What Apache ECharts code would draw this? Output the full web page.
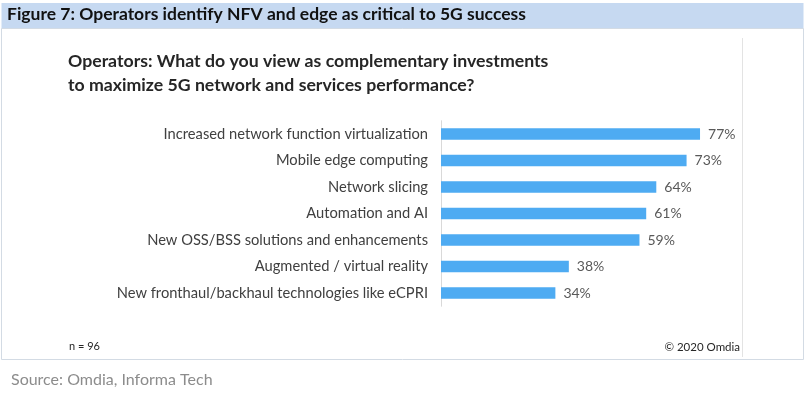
<!DOCTYPE html>
<html><head><meta charset="utf-8">
<script src="https://cdn.jsdelivr.net/npm/echarts@6/dist/echarts.min.js"></script>
<style>html,body{margin:0;padding:0;background:#fff}#c{width:809px;height:395px}</style>
</head><body><div id="c"></div>
<script>
var categories = [
  "Increased network function virtualization",
  "Mobile edge computing",
  "Network slicing",
  "Automation and AI",
  "New OSS/BSS solutions and enhancements",
  "Augmented / virtual reality",
  "New fronthaul/backhaul technologies like eCPRI"
];
var values = [77, 73, 64, 61, 59, 38, 34];
var figureTitle = "Figure 7: Operators identify NFV and edge as critical to 5G success";
var chartTitle = "Operators: What do you view as complementary investments\nto maximize 5G network and services performance?";
var noteLeft = "n = 96";
var noteRight = "© 2020 Omdia";
var sourceText = "Source: Omdia, Informa Tech";

var chart = echarts.init(document.getElementById('c'));
chart.setOption({
  animation: false,
  backgroundColor: '#ffffff',
  graphic: [
    {type:'rect', shape:{x:1.5,y:3,width:802,height:25.5}, style:{fill:'#c6d9f1'}, z:0},
    {type:'rect', shape:{x:1.5,y:28.5,width:802,height:331}, style:{fill:'none', stroke:'#d3dbe4', lineWidth:1}, z:0},
    {type:'line', shape:{x1:742.5,y1:38,x2:742.5,y2:357}, style:{stroke:'#e3e3e3', lineWidth:1}, z:0},
    {type:'text', left:7, top:5, style:{text:figureTitle, font:'bold 17.5px Lato', fill:'#111111'}},
    {type:'text', left:68, top:49, style:{text:chartTitle, font:'bold 17.7px Lato', fill:'#262626', lineHeight:24}},
    {type:'text', left:69, top:341, style:{text:noteLeft, font:'11px Lato', fill:'#262626'}},
    {type:'text', right:69, top:341, style:{text:noteRight, font:'11.5px Lato', fill:'#262626'}},
    {type:'text', left:11, top:372, style:{text:sourceText, font:'16px Lato', fill:'#8c8c8c'}}
  ],
  grid: {left:441, top:120.75, width:336.4, height:185.5, containLabel:false},
  xAxis: {type:'value', min:0, max:100, show:false, splitLine:{show:false}},
  yAxis: {
    type:'category', data:categories, inverse:true,
    axisLine:{show:true, lineStyle:{color:'#d9d9d9', width:1}},
    axisTick:{show:false},
    axisLabel:{color:'#404040', fontFamily:'Lato', fontSize:14.7, margin:13}
  },
  series: [{
    type:'bar', data:values, barWidth:11.5,
    itemStyle:{color:'#4eabf2'},
    label:{show:true, position:'right', distance:8, formatter:'{c}%', color:'#595959', fontFamily:'Lato', fontSize:14}
  }]
});
</script></body></html>
